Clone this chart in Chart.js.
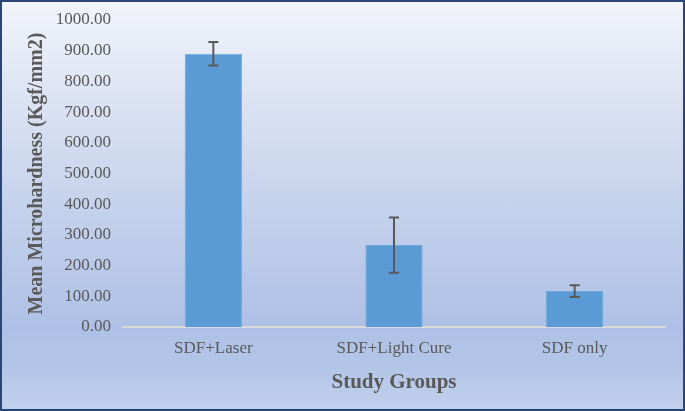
<!DOCTYPE html>
<html>
<head>
<meta charset="utf-8">
<script src="https://cdn.jsdelivr.net/npm/chart.js@4/dist/chart.umd.min.js"></script>
<style>
html,body{margin:0;padding:0;}
#wrap{position:relative;width:685px;height:411px;box-sizing:border-box;border:2px solid #2a4677;
background:linear-gradient(to bottom,#f2f4fb 0%,#dfe5f4 20%,#c5d2ec 50%,#aec0e5 80%,#b3c5e7 90%,#c1d0ec 100%);}
canvas{position:absolute;left:0;top:0;}
</style>
</head>
<body>
<div id="wrap"><canvas id="c" width="681" height="407"></canvas></div>
<script>
const categories = ["SDF+Laser", "SDF+Light Cure", "SDF only"];
const meanValues = [890, 267, 117];
const errorValues = [38, 90, 19];
const yTitle = "Mean Microhardness (Kgf/mm2)";
const xTitle = "Study Groups";

const errorBarPlugin = {
  id: 'errorBars',
  afterDatasetsDraw(chart) {
    const ctx = chart.ctx;
    const meta = chart.getDatasetMeta(0);
    const y = chart.scales.y;
    ctx.save();
    ctx.strokeStyle = '#595959';
    ctx.lineWidth = 2;
    meta.data.forEach((bar, i) => {
      const x = bar.x;
      const top = y.getPixelForValue(meanValues[i] + errorValues[i]);
      const bot = y.getPixelForValue(meanValues[i] - errorValues[i]);
      ctx.beginPath();
      ctx.moveTo(x, top); ctx.lineTo(x, bot);
      ctx.moveTo(x - 5, top); ctx.lineTo(x + 5, top);
      ctx.moveTo(x - 5, bot); ctx.lineTo(x + 5, bot);
      ctx.stroke();
    });
    ctx.restore();
  }
};

new Chart(document.getElementById('c'), {
  type: 'bar',
  data: {
    labels: categories,
    datasets: [{
      data: meanValues,
      backgroundColor: '#5b9bd5',
      borderColor: '#6fa8dc',
      borderWidth: 1,
      categoryPercentage: 1,
      barPercentage: 0.317
    }]
  },
  options: {
    responsive: false,
    animation: false,
    devicePixelRatio: 1,
    layout: { padding: { top: 18, right: 18, left: 23, bottom: 0 } },
    plugins: { legend: { display: false }, tooltip: { enabled: false } },
    scales: {
      y: {
        min: 0, max: 1000,
        ticks: {
          stepSize: 100,
          color: '#595959',
          font: { family: 'Liberation Serif', size: 17 },
          padding: 12,
          callback: v => Number(v).toFixed(2)
        },
        grid: { display: false, drawTicks: false },
        border: { display: false },
        title: {
          display: true, text: yTitle, color: '#595959',
          font: { family: 'Liberation Serif', size: 20, weight: 'bold' },
          padding: { top: 0, bottom: 8 }
        },
        afterFit(s) { s.width = 98; s.paddingTop = 0; s.paddingBottom = 0; }
      },
      x: {
        ticks: {
          color: '#595959',
          font: { family: 'Liberation Serif', size: 17 },
          padding: 11
        },
        grid: { display: false, drawTicks: false },
        border: { display: true, color: '#d9d9d9', width: 2 },
        title: {
          display: true, text: xTitle, color: '#595959',
          font: { family: 'Liberation Serif', size: 21, weight: 'bold' },
          padding: { top: 14, bottom: 14 }
        },
        afterFit(s) { s.height = 82; }
      }
    }
  },
  plugins: [errorBarPlugin]
});
</script>
</body>
</html>
